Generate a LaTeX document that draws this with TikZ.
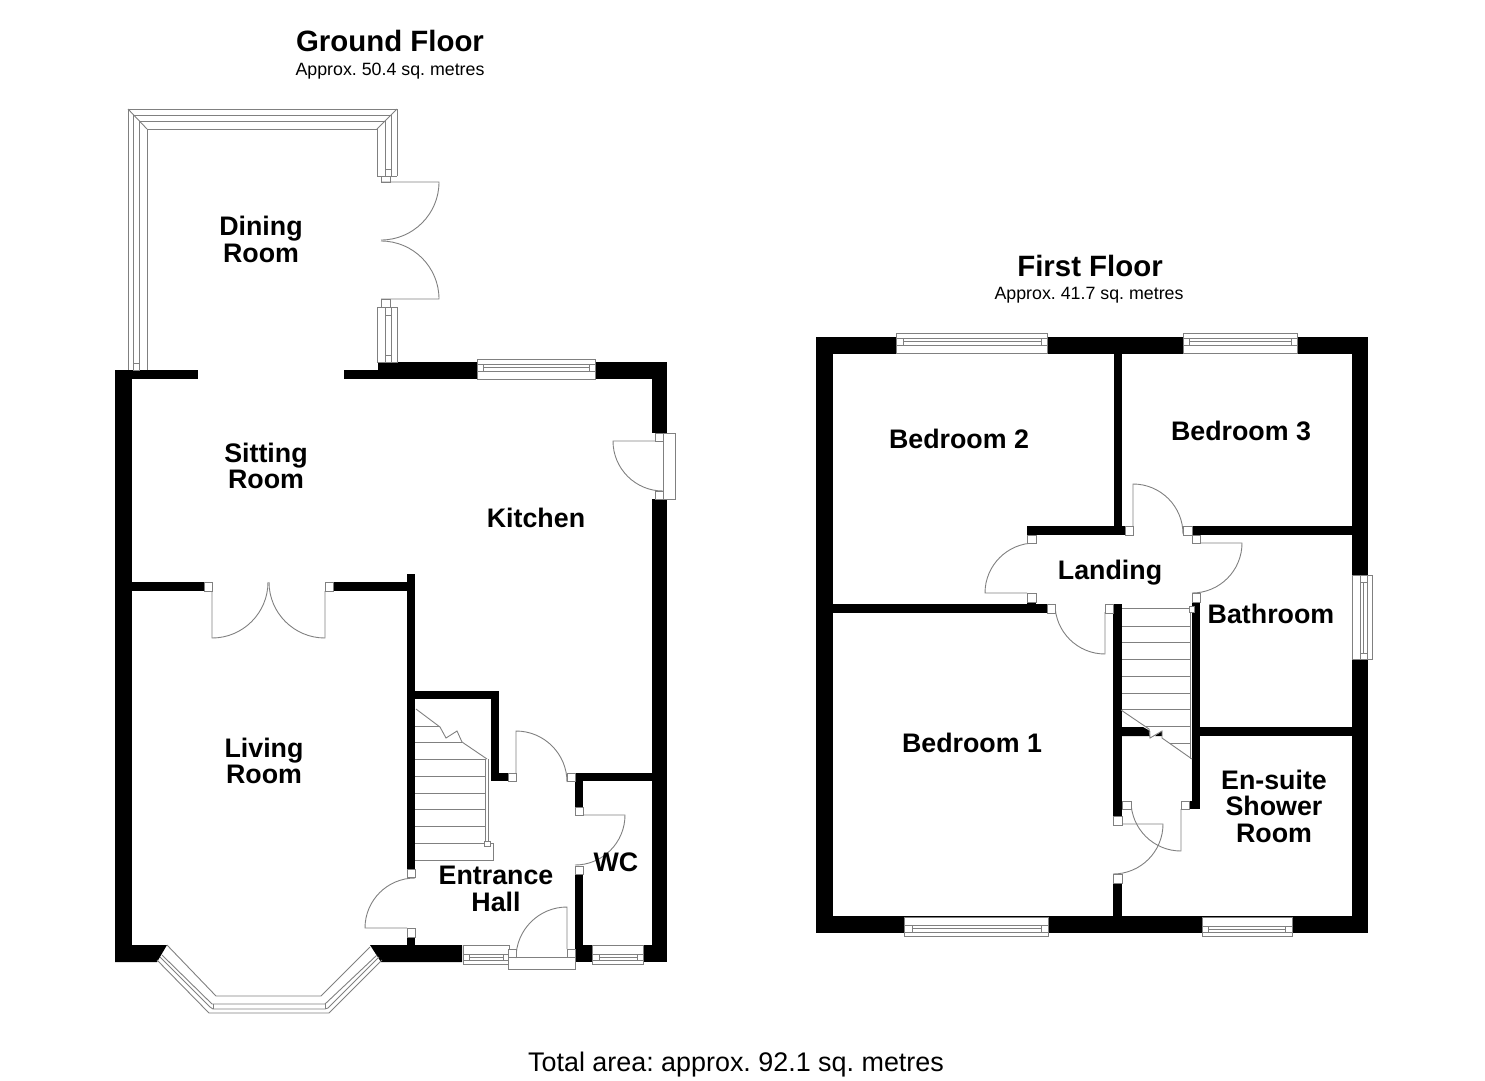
\documentclass[tikz,border=0pt]{standalone}
\usepackage{fontspec}
\setmainfont{Liberation Sans}
\frenchspacing
\begin{document}
\begin{tikzpicture}[x=1pt,y=1pt,yscale=-1,
  wall/.style={fill=black},
  fine/.style={draw=black!50,line width=0.9pt},
  frame/.style={fine,fill=white},
  room/.style={inner sep=0pt,align=center,font=\fontsize{26.8}{26.5}\selectfont\bfseries},
  title/.style={inner sep=0pt,font=\fontsize{29.4}{30}\selectfont\bfseries},
  area/.style={inner sep=0pt,font=\fontsize{17.8}{20}\selectfont}]
\useasboundingbox (0,0) rectangle (1485,1080);
\fill[wall] (115,370) rectangle (132,962);
\fill[wall] (115,370) rectangle (198,379);
\fill[wall] (115,945) -- (167,945) -- (157,962) -- (115,962) -- cycle;
\fill[wall] (344,370) rectangle (378,379);
\fill[wall] (378,362) rectangle (477,379);
\fill[wall] (595,362) rectangle (667,379);
\fill[wall] (652,362) rectangle (667,433);
\fill[wall] (652,499) rectangle (667,962);
\fill[wall] (370,945) -- (462,945) -- (462,962) -- (381,962) -- cycle;
\fill[wall] (575,945) rectangle (592,962);
\fill[wall] (643,945) rectangle (667,962);
\fill[wall] (132,582) rectangle (204,591);
\fill[wall] (333,582) rectangle (407,591);
\fill[wall] (407,574) rectangle (415,869);
\fill[wall] (407,937) rectangle (415,945);
\fill[wall] (415,691) rectangle (499,699);
\fill[wall] (491,691) rectangle (499,781);
\fill[wall] (491,773) rectangle (508,781);
\fill[wall] (575,773) rectangle (652,781);
\fill[wall] (575,773) rectangle (583,807);
\fill[wall] (575,874) rectangle (583,945);
\fill[wall] (816,337) rectangle (1368,354);
\fill[wall] (816,916) rectangle (1368,933);
\fill[wall] (816,337) rectangle (833,933);
\fill[wall] (1352,337) rectangle (1368,933);
\fill[wall] (1114,354) rectangle (1122,535);
\fill[wall] (1027,526) rectangle (1125,535);
\fill[wall] (1192,526) rectangle (1352,535);
\fill[wall] (833,604) rectangle (1047,613);
\fill[wall] (1027,602) rectangle (1036,604);
\fill[wall] (1113,604) rectangle (1122,816);
\fill[wall] (1113,883) rectangle (1122,916);
\fill[wall] (1192,602) rectangle (1200,809);
\fill[wall] (1189,801) rectangle (1192,809);
\fill[wall] (1200,727) rectangle (1352,736);
\fill[wall] (1122,727) -- (1143,727) -- (1150,731) -- (1150,736) -- (1122,736) -- cycle;
\fill[wall] (1155,736) -- (1162,731) -- (1162,736) -- cycle;
\draw[fine] (128,370) -- (128,109) -- (397,109) -- (397,176);
\draw[fine] (147,370) -- (147,129) -- (377,129) -- (377,176) -- (397,176);
\draw[fine] (133,363) -- (133,115) -- (391,115) -- (391,169);
\draw[fine] (139,363) -- (139,121) -- (385,121) -- (385,169);
\draw[fine] (128,109) -- (147,129);
\draw[fine] (397,109) -- (377,129);
\draw[frame] (133,363) rectangle (139,370);
\draw[frame] (385,169) rectangle (391,176);
\draw[frame] (377,307) rectangle (397,362);
\draw[frame] (385,307) rectangle (391,355);
\draw[fine] (385,315) -- (391,315);
\draw[frame] (385,355) rectangle (391,362);
\draw[frame] (381,176) rectangle (390,182);
\draw[frame] (381,299) rectangle (390,307);
\draw[fine] (381,182) -- (439,182) arc[start angle=0,end angle=90,radius=58];
\draw[fine] (381,299) -- (439,299) arc[start angle=0,end angle=-90,radius=58];
\draw[frame] (477,359) rectangle (595,379) (477,364) -- (595,364) (477,371) -- (595,371) (483,364) -- (483,371) (589,364) -- (589,371) (483,367.5) -- (589,367.5);
\draw[fine] (212,591) -- (212,638) arc[start angle=90,end angle=0,radius=56];
\draw[fine] (325,591) -- (325,638) arc[start angle=90,end angle=180,radius=56];
\draw[frame] (204,582) rectangle (212,591);
\draw[frame] (325,582) rectangle (333,591);
\draw[fine] (663,441) -- (613,441) arc[start angle=180,end angle=90,radius=50];
\draw[frame] (655,433) rectangle (663,441);
\draw[frame] (655,491) rectangle (663,499);
\draw[frame] (663,433) rectangle (675,499);
\draw[fine] (415,726) -- (440,726);
\draw[fine] (415,742) -- (462,742);
\draw[fine] (415,759) -- (486,759);
\draw[fine] (415,776) -- (486,776);
\draw[fine] (415,793) -- (486,793);
\draw[fine] (415,809) -- (486,809);
\draw[fine] (415,826) -- (486,826);
\draw[fine] (415,843) -- (493,843) -- (493,860) -- (415,860);
\draw[fine] (416,709) -- (440,727) -- (446,738) -- (457,731) -- (462,742) -- (487,759);
\draw[fine] (485,759) -- (485,843);
\draw[fine] (488,759) -- (488,843);
\draw[frame] (484,841) rectangle (490,846);
\draw[fine] (516,773) -- (516,731) arc[start angle=-90,end angle=0,radius=51];
\draw[frame] (508,773) rectangle (516,781);
\draw[frame] (567,773) rectangle (575,781);
\draw[fine] (583,815) -- (625,815) arc[start angle=0,end angle=90,radius=50];
\draw[frame] (575,807) rectangle (583,815);
\draw[frame] (575,866) rectangle (583,874);
\draw[fine] (407,928) -- (365,928) arc[start angle=180,end angle=270,radius=50];
\draw[frame] (407,869) rectangle (415,877);
\draw[frame] (407,928) rectangle (415,937);
\draw[frame] (463,945) rectangle (509,964) (463,954) -- (509,954) (463,960) -- (509,960) (469,954) -- (469,960) (503,954) -- (503,960) (469,957) -- (503,957);
\draw[frame] (592,945) rectangle (643,964) (592,954) -- (643,954) (592,960) -- (643,960) (599,954) -- (599,960) (637,954) -- (637,960) (599,957) -- (637,957);
\draw[frame] (508,957) rectangle (575,969);
\draw[fine] (567,949) -- (567,907) arc[start angle=-90,end angle=-180,radius=51];
\draw[frame] (508,949) rectangle (516,957);
\draw[frame] (567,949) rectangle (575,957);
\draw[fine] (167,945) -- (216,996) -- (321,996) -- (370,947);
\draw[fine] (157,960) -- (209,1013) -- (329,1013) -- (382,960);
\draw[fine] (160,957) -- (210,1007) -- (213,1009) -- (325,1009) -- (328,1008) -- (379,957);
\draw[fine] (162,955) -- (212,1004) -- (325,1004) -- (377,955);
\draw[fine] (213,1004) -- (213,1009);
\draw[fine] (325,1004) -- (325,1009);
\draw[frame] (896,333) rectangle (1047,353) (896,338) -- (1047,338) (896,345) -- (1047,345) (903,338) -- (903,345) (1041,338) -- (1041,345) (903,341.5) -- (1041,341.5);
\draw[frame] (1183,333) rectangle (1297,353) (1183,338) -- (1297,338) (1183,345) -- (1297,345) (1189,338) -- (1189,345) (1291,338) -- (1291,345) (1189,341.5) -- (1291,341.5);
\draw[frame] (904,917) rectangle (1048,936) (904,925) -- (1048,925) (904,932) -- (1048,932) (912,925) -- (912,932) (1041,925) -- (1041,932) (912,928.5) -- (1041,928.5);
\draw[frame] (1202,917) rectangle (1292,936) (1202,926) -- (1292,926) (1202,932) -- (1292,932) (1208,926) -- (1208,932) (1285,926) -- (1285,932) (1208,929) -- (1285,929);
\draw[frame] (1352,575) rectangle (1372,659) (1360,575) -- (1360,659) (1367,575) -- (1367,659) (1360,582) -- (1367,582) (1360,653) -- (1367,653) (1363.5,582) -- (1363.5,653);
\draw[fine] (1133,526) -- (1133,484) arc[start angle=-90,end angle=0,radius=50];
\draw[frame] (1125,526) rectangle (1133,535);
\draw[frame] (1183,526) rectangle (1192,535);
\draw[fine] (1027,593) -- (985,593) arc[start angle=180,end angle=270,radius=50];
\draw[frame] (1027,535) rectangle (1036,543);
\draw[frame] (1027,593) rectangle (1036,602);
\draw[fine] (1200,543) -- (1242,543) arc[start angle=0,end angle=90,radius=50];
\draw[frame] (1192,535) rectangle (1200,543);
\draw[frame] (1192,593) rectangle (1200,602);
\draw[fine] (1105,612) -- (1105,654) arc[start angle=90,end angle=180,radius=50];
\draw[frame] (1047,604) rectangle (1055,613);
\draw[frame] (1105,604) rectangle (1113,613);
\draw[fine] (1122,608) -- (1190,608);
\draw[fine] (1122,626) -- (1190,626);
\draw[fine] (1122,642) -- (1190,642);
\draw[fine] (1122,659) -- (1190,659);
\draw[fine] (1122,676) -- (1190,676);
\draw[fine] (1122,693) -- (1190,693);
\draw[fine] (1122,709) -- (1190,709);
\draw[fine] (1146,726) -- (1190,726);
\draw[fine] (1170,743) -- (1190,743);
\draw[fine] (1121,710) -- (1149,729) -- (1150,738) -- (1162,731) -- (1162,738) -- (1192,759);
\draw[fine] (1190,608) -- (1190,759);
\draw[frame] (1189,606) rectangle (1194,612);
\draw[fine] (1181,809) -- (1181,851) arc[start angle=90,end angle=180,radius=50];
\draw[fine] (1122,824) -- (1163,824) arc[start angle=0,end angle=90,radius=50];
\draw[frame] (1122,801) rectangle (1131,809);
\draw[frame] (1181,801) rectangle (1189,809);
\draw[frame] (1113,816) rectangle (1122,825);
\draw[frame] (1113,874) rectangle (1122,883);
\node[title] (groundtitle) at (390,41) {Ground Floor};
\node[area] (groundarea) at (390,71) {Approx. 50.4 sq. metres};
\node[title] (firsttitle) at (1090,266) {First Floor};
\node[area] (firstarea) at (1089,295) {Approx. 41.7 sq. metres};
\node[room] (dining) at (261,239.5) {Dining\\Room};
\node[room] (sitting) at (266,466) {Sitting\\Room};
\node[room] (kitchen) at (536,518) {Kitchen};
\node[room] (living) at (264,761) {Living\\Room};
\node[room] (hall) at (496,889) {Entrance\\Hall};
\node[room] (wc) at (616,862) {WC};
\node[room] (bedtwo) at (959,439) {Bedroom 2};
\node[room] (bedthree) at (1241,431) {Bedroom 3};
\node[room] (landing) at (1110,573) {Landing};
\node[room] (bathroom) at (1271,614) {Bathroom};
\node[room] (bedone) at (972,743) {Bedroom 1};
\node[room] (ensuite) at (1274,806) {En-suite\\Shower\\Room};
\node[inner sep=0pt,font=\fontsize{26.9}{30}\selectfont] (total) at (736,1065) {Total area: approx. 92.1 sq. metres};
\end{tikzpicture}
\end{document}
